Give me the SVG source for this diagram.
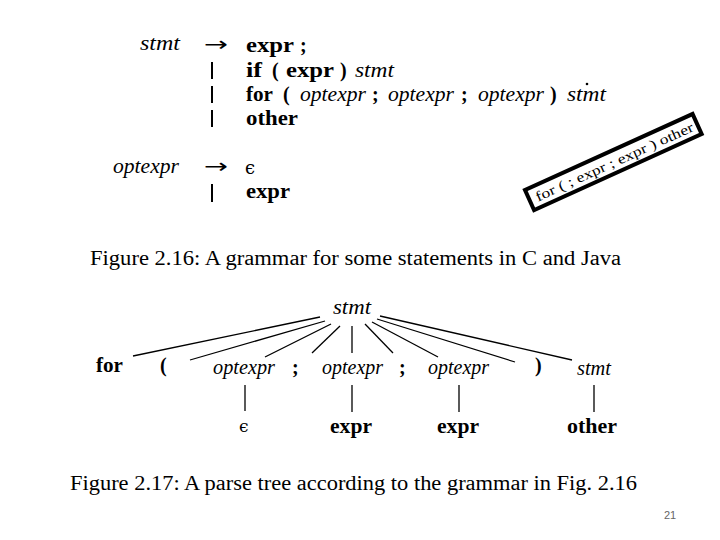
<svg xmlns="http://www.w3.org/2000/svg" width="720" height="540" viewBox="0 0 720 540">
<style>
text{font-family:"Liberation Serif","DejaVu Serif",serif;fill:#000;font-size:20px}
.b{font-weight:bold}
.i{font-style:italic}
.ar{font-family:"DejaVu Sans",sans-serif;font-size:20px}
.eps{font-family:"DejaVu Serif",serif}
.cap{font-size:20px}
.bar{stroke:#000;stroke-width:2}
.edge{stroke:#000;stroke-width:1.3;fill:none}
.pg{font-family:"Liberation Sans",Arial,sans-serif;font-size:11px;fill:#666}
</style>
<rect width="720" height="540" fill="#fff"/>
<g id="grammar">
<text class="i" x="140" y="50" textLength="40" lengthAdjust="spacingAndGlyphs">stmt</text>
<text class="ar" x="204" y="51" textLength="24" lengthAdjust="spacingAndGlyphs">→</text>
<text class="b" x="246" y="52" textLength="48" lengthAdjust="spacingAndGlyphs">expr</text>
<text class="b" x="300" y="52">;</text>
<line class="bar" x1="212" y1="62" x2="212" y2="79"/>
<text class="b" x="246" y="77" textLength="16" lengthAdjust="spacingAndGlyphs">if</text>
<text class="b" x="272" y="77">(</text>
<text class="b" x="286" y="77" textLength="48" lengthAdjust="spacingAndGlyphs">expr</text>
<text class="b" x="340" y="77">)</text>
<text class="i" x="355" y="77" textLength="39" lengthAdjust="spacingAndGlyphs">stmt</text>
<line class="bar" x1="212" y1="86" x2="212" y2="103"/>
<text class="b" x="246" y="101" textLength="27" lengthAdjust="spacingAndGlyphs">for</text>
<text class="b" x="283" y="101">(</text>
<text class="i" x="300" y="101" textLength="66" lengthAdjust="spacingAndGlyphs">optexpr</text>
<text class="b" x="372" y="101">;</text>
<text class="i" x="388" y="101" textLength="66" lengthAdjust="spacingAndGlyphs">optexpr</text>
<text class="b" x="461" y="101">;</text>
<text class="i" x="478" y="101" textLength="66" lengthAdjust="spacingAndGlyphs">optexpr</text>
<text class="b" x="550" y="101">)</text>
<text class="i" x="567" y="101" textLength="39" lengthAdjust="spacingAndGlyphs">stmt</text>
<circle cx="587" cy="84" r="1.3" fill="#000"/>
<line class="bar" x1="212" y1="110" x2="212" y2="127"/>
<text class="b" x="246" y="125" textLength="52" lengthAdjust="spacingAndGlyphs">other</text>
<text class="i" x="113" y="173" textLength="66" lengthAdjust="spacingAndGlyphs">optexpr</text>
<text class="ar" x="204" y="173" textLength="24" lengthAdjust="spacingAndGlyphs">→</text>
<text class="eps" x="245" y="174" style="font-size:18px">ϵ</text>
<line class="bar" x1="212" y1="184" x2="212" y2="202"/>
<text class="b" x="246" y="198" textLength="44" lengthAdjust="spacingAndGlyphs">expr</text>
</g>
<g id="example" transform="translate(525,190) rotate(-24.4)">
<rect x="0" y="0" width="184" height="22" fill="none" stroke="#000" stroke-width="4"/>
<text x="7" y="16" style="font-size:14px" textLength="172" lengthAdjust="spacingAndGlyphs">for ( ; expr ; expr ) other</text>
</g>
<text class="cap" x="90" y="265" textLength="531" lengthAdjust="spacingAndGlyphs">Figure 2.16: A grammar for some statements in C and Java</text>
<g id="connectors">
<line class="edge" x1="320" y1="317" x2="133" y2="356"/>
<line class="edge" x1="325" y1="321" x2="190" y2="360"/>
<line class="edge" x1="331" y1="324" x2="265" y2="357"/>
<line class="edge" x1="340" y1="326" x2="312" y2="353"/>
<line class="edge" x1="352" y1="326" x2="352" y2="353"/>
<line class="edge" x1="365" y1="324" x2="393" y2="353"/>
<line class="edge" x1="372" y1="322" x2="438" y2="357"/>
<line class="edge" x1="377" y1="319" x2="515" y2="362"/>
<line class="edge" x1="380" y1="316" x2="572" y2="360"/>
<line class="edge" x1="245" y1="385" x2="245" y2="411"/>
<line class="edge" x1="352" y1="385" x2="352" y2="412"/>
<line class="edge" x1="459" y1="385" x2="459" y2="412"/>
<line class="edge" x1="594" y1="385" x2="594" y2="412"/>
</g>
<g id="n-stmt"><text class="i" x="333" y="314" textLength="38" lengthAdjust="spacingAndGlyphs">stmt</text></g>
<g id="n-for"><text class="b" x="96" y="372" textLength="27" lengthAdjust="spacingAndGlyphs">for</text></g>
<g id="n-lp"><text class="b" x="160" y="372">(</text></g>
<g id="n-opt1"><text class="i" x="213" y="374" textLength="62" lengthAdjust="spacingAndGlyphs">optexpr</text></g>
<g id="n-semi1"><text class="b" x="292" y="374">;</text></g>
<g id="n-opt2"><text class="i" x="322" y="374" textLength="61" lengthAdjust="spacingAndGlyphs">optexpr</text></g>
<g id="n-semi2"><text class="b" x="399" y="374">;</text></g>
<g id="n-opt3"><text class="i" x="428" y="374" textLength="61" lengthAdjust="spacingAndGlyphs">optexpr</text></g>
<g id="n-rp"><text class="b" x="535" y="372">)</text></g>
<g id="n-stmt2"><text class="i" x="577" y="375" textLength="34" lengthAdjust="spacingAndGlyphs">stmt</text></g>
<g id="n-eps"><text class="eps" x="239" y="432" style="font-size:17px">ϵ</text></g>
<g id="n-expr1"><text class="b" x="330" y="433" textLength="42" lengthAdjust="spacingAndGlyphs">expr</text></g>
<g id="n-expr2"><text class="b" x="437" y="433" textLength="42" lengthAdjust="spacingAndGlyphs">expr</text></g>
<g id="n-other"><text class="b" x="567" y="433" textLength="50" lengthAdjust="spacingAndGlyphs">other</text></g>
<text class="cap" x="70" y="490" textLength="567" lengthAdjust="spacingAndGlyphs">Figure 2.17: A parse tree according to the grammar in Fig. 2.16</text>
<text class="pg" x="664" y="519">21</text>
</svg>
